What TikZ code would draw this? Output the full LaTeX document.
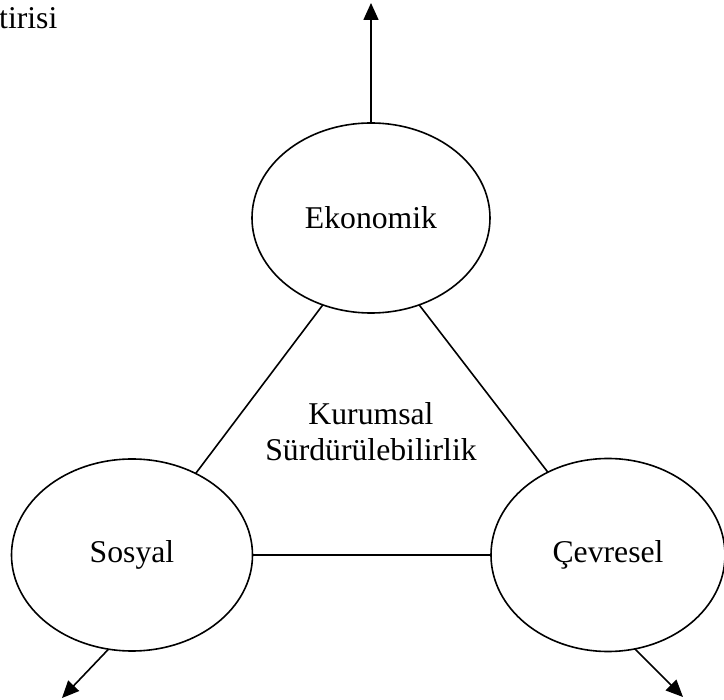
\documentclass[tikz,border=0pt]{standalone}
\usepackage{fontspec}
\setmainfont{Liberation Serif}
\usetikzlibrary{shapes.geometric,arrows.meta}
\begin{document}
\begin{tikzpicture}[x=1pt,y=-1pt,
  pillar/.style={ellipse,draw,line width=1.6pt,inner sep=0pt,outer sep=0pt,align=center},
  link/.style={line width=1.6pt},
  outlink/.style={line width=1.6pt,-{Triangle[length=17pt,width=15pt]}},
  font=\fontsize{31.7}{36}\selectfont]
\useasboundingbox (0,0) rectangle (724,700);
% three dimensions of sustainability
\node[pillar,minimum width=238pt,minimum height=190pt] (eko) at (371,218) {Ekonomik};
\node[pillar,minimum width=241pt,minimum height=192pt] (sos) at (132,555) {Sosyal};
\node[pillar,minimum width=234pt,minimum height=193pt] (cev) at (608,555) {Çevresel};
% centre label
\node[align=center,inner sep=0pt] (kur) at (371,432) {Kurumsal\\Sürdürülebilirlik};
% caption fragment
\node[anchor=base west,inner sep=0pt] (cap) at (-1,29) {tirisi};
% triangle sides
\draw[link] (eko.241) -- (sos.52);
\draw[link] (eko.299) -- (cev.126);
\draw[link] (sos.east) -- (cev.west);
% outward arrows
\coordinate (up) at (371,3);
\coordinate (dl) at (62,698);
\coordinate (dr) at (683,697);
\draw[outlink] (eko.north) -- (up);
\draw[outlink] (sos.256) -- (dl);
\draw[outlink] (cev.286) -- (dr);
\end{tikzpicture}
\end{document}
